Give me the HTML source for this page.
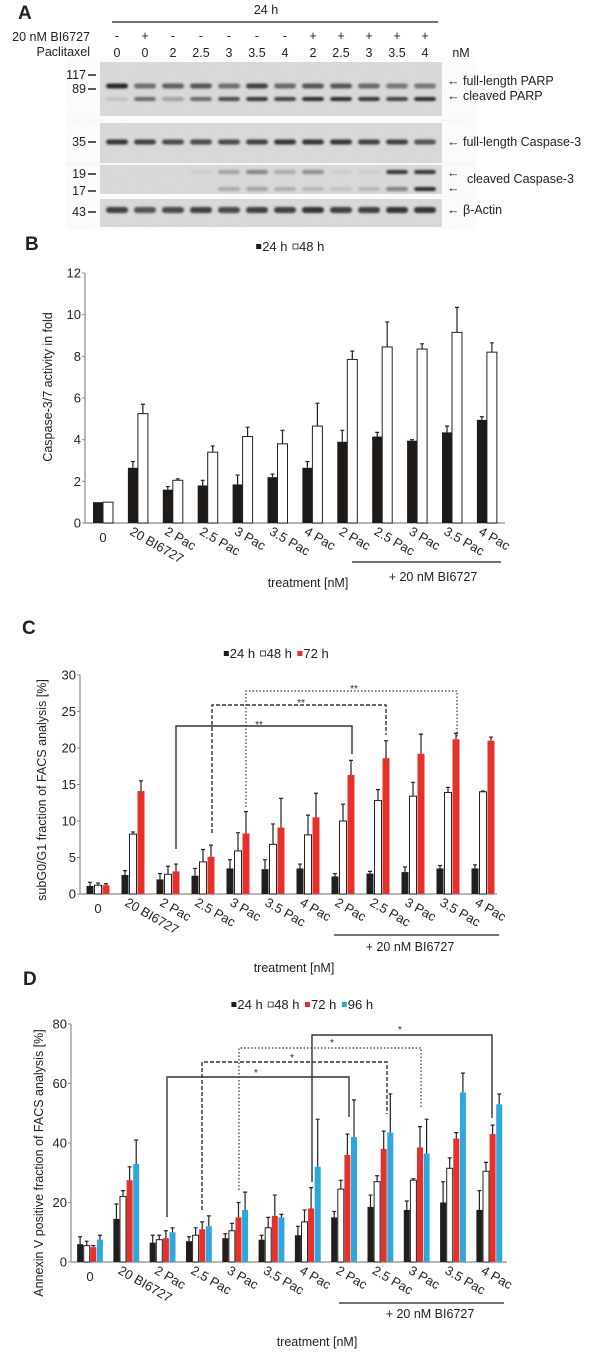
<!DOCTYPE html>
<html><head><meta charset="utf-8">
<style>
html,body{margin:0;padding:0;background:#fff;}
svg{display:block;font-family:"Liberation Sans",sans-serif;}
</style></head>
<body>
<svg id="fig" width="600" height="1353" viewBox="0 0 600 1353" xmlns="http://www.w3.org/2000/svg">
<defs>
<filter id="grain"><feTurbulence type="fractalNoise" baseFrequency="0.9" numOctaves="2" seed="3"/><feColorMatrix type="matrix" values="0 0 0 0 0.5  0 0 0 0 0.5  0 0 0 0 0.5  0 0 0 0.12 0"/></filter>
<filter id="blur1"><feGaussianBlur stdDeviation="1.1"/></filter>
</defs>
<g id="panelA"></g>
<g id="panelB"></g>
<g id="panelC"></g>
<g id="panelD"></g>
</svg>
<script>
// ---------- Panel B data ----------
const catLabels = ["0","20 BI6727","2 Pac","2.5 Pac","3 Pac","3.5 Pac","4 Pac","2 Pac","2.5 Pac","3 Pac","3.5 Pac","4 Pac"];
const bTicks = [0,2,4,6,8,10,12];
const b24 = [1.0,2.65,1.6,1.8,1.85,2.2,2.65,3.9,4.15,3.95,4.35,4.95];
const b24err = [0,0.3,0.15,0.25,0.45,0.15,0.3,0.55,0.2,0.05,0.3,0.15];
const b48 = [1.0,5.25,2.05,3.4,4.15,3.8,4.65,7.85,8.45,8.35,9.15,8.2];
const b48err = [0,0.45,0.07,0.3,0.45,0.65,1.1,0.4,1.2,0.25,1.2,0.45];
// ---------- Panel C data ----------
const cTicks = [0,5,10,15,20,25,30];
const c24 = [1.1,2.6,2.0,2.5,3.5,3.4,3.5,2.4,2.8,3.0,3.5,3.5];
const c24err = [0.5,0.6,0.8,1.0,1.2,1.3,0.6,0.4,0.3,0.7,0.4,0.5];
const c48 = [1.2,8.2,2.7,4.4,5.9,6.8,8.1,10.0,12.8,13.4,13.9,14.0];
const c48err = [0.3,0.3,1.1,1.7,2.5,2.8,2.7,2.3,1.5,1.9,0.7,0.1];
const c72 = [1.2,14.1,3.1,5.1,8.3,9.1,10.5,16.3,18.6,19.2,21.2,21.0];
const c72err = [0.2,1.4,1.0,1.6,3.0,4.0,3.3,2.0,2.4,2.7,0.8,0.5];
// ---------- Panel D data ----------
const dTicks = [0,20,40,60,80];
const d24 = [6,14.5,6.5,7,8,7.5,9,15,18.5,17.5,20,17.5];
const d24err = [2.5,5,2.5,1.5,1.5,1.5,3,2,4,3,7,6.5];
const d48 = [5.5,22,7.5,9,10.5,11.5,13.5,24.5,27,27.5,31.5,30.5];
const d48err = [1.5,2,1.5,2.5,2.5,3.5,4,3,2,0.5,3.5,3];
const d72 = [5,27.5,8,11,15,15.5,18,36,38,38.5,41.5,43];
const d72err = [0.5,4.5,2.5,2.5,5,7,7,7,6,7,2,3];
const d96 = [7.5,33,10,12,17.5,15,32,42,43.5,36.5,57,53];
const d96err = [1.5,8,1.5,3.5,6,1,16,12.5,13,11.5,6.5,3.5];

const NS="http://www.w3.org/2000/svg";
function mk(parent,tag,attrs,text){const e=document.createElementNS(NS,tag);for(const k in attrs)e.setAttribute(k,attrs[k]);if(text!==undefined)e.textContent=text;parent.appendChild(e);return e;}

function chart(g,o){
  const yS=v=>o.y0-(v/o.max)*(o.y0-o.yTop);
  const xC=i=>o.x0c+i*o.step;
  let ax=mk(g,'line',{x1:o.ax,y1:o.yTop,x2:o.ax,y2:o.y0,stroke:'#8a8a8a','stroke-width':1.2});
  
  
  let xa=mk(g,'line',{x1:o.ax,y1:o.y0,x2:o.axEnd,y2:o.y0,stroke:'#8a8a8a','stroke-width':1.2});
  
  
  o.ticks.forEach(t=>{
    mk(g,'line',{x1:o.ax-3,y1:yS(t),x2:o.ax,y2:yS(t),stroke:'#8a8a8a','stroke-width':1});
    const tl=mk(g,'text',{x:o.ax-4,y:yS(t)+4.5,'text-anchor':'end','font-size':o.tickFs,fill:'#222'},String(t));
    
    
  });
  const n=o.series.length;
  const tot=n*o.bw+(n-1)*o.gap;
  catLabels.forEach((c,i)=>{
    const cx=xC(i);
    o.series.forEach((s,j)=>{
      const x=cx-tot/2+j*(o.bw+o.gap);
      const v=s.vals[i], e=s.err[i];
      const top=yS(v);
      const r=mk(g,'rect',{x:x,y:top,width:o.bw,height:o.y0-top,fill:s.color,stroke:s.stroke||'none','stroke-width':s.stroke?1:0});
      
      
      if(e>0){
        const mx=x+o.bw/2, et=yS(v+e);
        const eb=mk(g,'path',{d:`M${mx} ${top}V${et}M${mx-2} ${et}H${mx+2}`,stroke:'#222','stroke-width':1.2,fill:'none'});
        
        
      }
    });
    let lab;
    if(i===0){lab=mk(g,'text',{x:cx,y:o.y0+19,'text-anchor':'middle','font-size':o.tickFs,fill:'#222'},c);}
    else{lab=mk(g,'text',{x:cx-9,y:o.y0+11,'font-size':o.tickFs,fill:'#222',transform:`rotate(30 ${cx-9} ${o.y0+11})`},c);}
    
    
  });
}

function text(g,x,y,s,fs,anchor,name,extra){const t=mk(g,'text',Object.assign({x:x,y:y,'font-size':fs,'text-anchor':anchor||'start',fill:'#222'},extra||{}),s);return t;}

function legend(g,cx,y,items){
  let w=0; items.forEach(it=>w+=6+it[0].length*7.2+2);
  let x=cx-w/2;
  items.forEach(it=>{
    const r=mk(g,'rect',{x:x,y:y-7,width:5,height:5,fill:it[1],stroke:it[2]||'none','stroke-width':0.8});
    
    
    const t=mk(g,'text',{x:x+6,y:y,'font-size':13,fill:'#222'},it[0]);
    
    
    x+=6+it[0].length*7.2+2;
  });
}

function bracket(g,x1,yb1,yt,x2,yb2,dash,sx,sy,star,w){
  const p=mk(g,'path',{d:`M${x1} ${yb1}V${yt}H${x2}V${yb2}`,fill:'none',stroke:'#333','stroke-width':w||1.4,'stroke-dasharray':dash||'none'});
  
  
  text(g,sx,sy,star,10,'middle','significance-star');
}

// ---------------- Panel A ----------------
(function(){
  const g=document.getElementById('panelA');
  text(g,18,19,'A',19,'start','panel-label-a',{'font-weight':'bold'});
  text(g,266,14,'24 h',12.5,'middle','time-label');
  const ln=mk(g,'line',{x1:112,y1:22,x2:438,y2:22,stroke:'#222','stroke-width':1.2});
  
  text(g,90,41,'20 nM BI6727',12.5,'end','bi6727-row-label');
  text(g,90,56,'Paclitaxel',12.5,'end','paclitaxel-row-label');
  const bi=['-','+','-','-','-','-','-','+','+','+','+','+'];
  const pac=['0','0','2','2.5','3','3.5','4','2','2.5','3','3.5','4'];
  const lane=i=>117+i*28;
  bi.forEach((s,i)=>text(g,lane(i),40,s,12.5,'middle','bi6727-sign'));
  pac.forEach((s,i)=>text(g,lane(i),57,s,12.5,'middle','paclitaxel-dose'));
  text(g,461,57,'nM',12.5,'middle','unit-label');
  const boxes=[[62,116],[123,163],[165,194],[199,227]];
  boxes.forEach((b,k)=>{
    const r=mk(g,'rect',{x:100,y:b[0],width:342,height:b[1]-b[0],fill:'#dadada'});
    
    mk(g,'rect',{x:100,y:b[0],width:342,height:b[1]-b[0],filter:'url(#grain)'});
  });
  const fullParp=[0.95,0.55,0.65,0.7,0.55,0.8,0.6,0.7,0.7,0.6,0.5,0.5];
  const clParp=[0.1,0.6,0.3,0.6,0.75,0.85,0.8,0.9,0.9,0.85,0.8,0.9];
  const casp=[0.85,0.8,0.75,0.75,0.75,0.8,0.85,0.85,0.85,0.8,0.8,0.7];
  const cl19=[0,0,0,0.05,0.3,0.45,0.25,0.4,0.05,0.05,0.85,0.85];
  const cl17=[0,0,0,0,0.25,0.3,0.2,0.15,0.1,0.15,0.45,0.9];
  const actin=[0.8,0.7,0.75,0.8,0.75,0.8,0.8,0.85,0.8,0.8,0.85,0.85];
  const rows=[[fullParp,86,5],[clParp,99,4],[casp,142,5],[cl19,172,4],[cl17,189,4],[actin,210,6]];
  const bg=mk(g,'g',{filter:'url(#blur1)'});
  rows.forEach(r=>{r[0].forEach((v,i)=>{
    if(v<=0)return;
    const e=mk(bg,'rect',{x:lane(i)-11,y:r[1]-r[2]/2,width:22,height:r[2],rx:3,fill:'#1a1a1a','fill-opacity':v});
    
  });});
  [['117',75],['89',89],['35',142],['19',174],['17',191],['43',212]].forEach(m=>{
    text(g,86,m[1]+4,m[0],12.5,'end','mw-marker');
    mk(g,'line',{x1:88,y1:m[1],x2:96,y2:m[1],stroke:'#222','stroke-width':1.5});
  });
  const rl=[['← full-length PARP',85],['← cleaved PARP',100],['← full-length Caspase-3',146],['← β-Actin',214]];
  rl.forEach(l=>text(g,447,l[1],l[0],12.5,'start','band-label'));
  text(g,447,177,'←',12.5,'start','band-arrow');
  text(g,447,192,'←',12.5,'start','band-arrow');
  text(g,467,183,'cleaved Caspase-3',12.5,'start','band-label');
})();

// ---------------- Panel B ----------------
(function(){
  const g=document.getElementById('panelB');
  text(g,25,250,'B',19,'start','panel-label-b',{'font-weight':'bold'});
  legend(g,293,251,[['24 h','#1e1a18'],['48 h','#fff','#222']]);
  chart(g,{ax:85,axEnd:505,y0:523,yTop:273,max:12,ticks:bTicks,x0c:103,step:34.9,bw:10,gap:0,tickFs:13,
    series:[{name:'24h',vals:b24,err:b24err,color:'#1e1a18'},{name:'48h',vals:b48,err:b48err,color:'#fff',stroke:'#222'}]});
  text(g,52,387,'Caspase-3/7 activity in fold',12.5,'middle','y-axis-title',{transform:'rotate(-90 52 387)'});
  const l=mk(g,'line',{x1:352,y1:562,x2:501,y2:562,stroke:'#222','stroke-width':1.3});
  
  text(g,433,581,'+ 20 nM BI6727',12.5,'middle','combo-label');
  text(g,308,587,'treatment [nM]',12.5,'middle','x-axis-title');
})();

// ---------------- Panel C ----------------
(function(){
  const g=document.getElementById('panelC');
  text(g,22,634,'C',19,'start','panel-label-c',{'font-weight':'bold'});
  legend(g,279,658,[['24 h','#1e1a18'],['48 h','#fff','#222'],['72 h','#e8302a']]);
  chart(g,{ax:80,axEnd:497,y0:894,yTop:675,max:30,ticks:cTicks,x0c:98,step:35,bw:7,gap:1,tickFs:13,
    series:[{name:'24h',vals:c24,err:c24err,color:'#221e1c'},{name:'48h',vals:c48,err:c48err,color:'#fff',stroke:'#222'},{name:'72h',vals:c72,err:c72err,color:'#e8302a'}]});
  text(g,46,790,'subG0/G1 fraction of FACS analysis [%]',12.5,'middle','y-axis-title',{transform:'rotate(-90 46 790)'});
  bracket(g,176,849,726,352,754,null,259,728,'**');
  bracket(g,212,833,705,386,735,'4 2',301,706,'**');
  bracket(g,246,807,691,457,738,'1.5 2',354,692,'**',1.2);
  const l=mk(g,'line',{x1:334,y1:935,x2:499,y2:935,stroke:'#222','stroke-width':1.3});
  
  text(g,410,951,'+ 20 nM BI6727',12.5,'middle','combo-label');
  text(g,294,972,'treatment [nM]',12.5,'middle','x-axis-title');
})();

// ---------------- Panel D ----------------
(function(){
  const g=document.getElementById('panelD');
  text(g,23,985,'D',19,'start','panel-label-d',{'font-weight':'bold'});
  legend(g,305,1009,[['24 h','#1e1a18'],['48 h','#fff','#222'],['72 h','#e8302a'],['96 h','#2ea6de']]);
  chart(g,{ax:71,axEnd:507,y0:1262,yTop:1024,max:80,ticks:dTicks,x0c:90,step:36.3,bw:6,gap:0.6,tickFs:13,
    series:[{name:'24h',vals:d24,err:d24err,color:'#221e1c'},{name:'48h',vals:d48,err:d48err,color:'#fff',stroke:'#222'},{name:'72h',vals:d72,err:d72err,color:'#e8302a'},{name:'96h',vals:d96,err:d96err,color:'#2ea6de'}]});
  text(g,43,1163,'Annexin V positive fraction of FACS analysis [%]',12.5,'middle','y-axis-title',{transform:'rotate(-90 43 1163)'});
  bracket(g,167,1217,1077,349,1117,null,256,1076,'*');
  bracket(g,202,1210,1062,387,1114,'4 2',292,1061,'*');
  bracket(g,239,1190,1048,421,1109,'1.5 2',332,1046,'*',1.2);
  bracket(g,312,1182,1035,492,1118,null,400,1033,'*');
  const l=mk(g,'line',{x1:339,y1:1303,x2:504,y2:1303,stroke:'#222','stroke-width':1.3});
  
  text(g,430,1318,'+ 20 nM BI6727',12.5,'middle','combo-label');
  text(g,317,1346,'treatment [nM]',12.5,'middle','x-axis-title');
})();
</script>
</body></html>
